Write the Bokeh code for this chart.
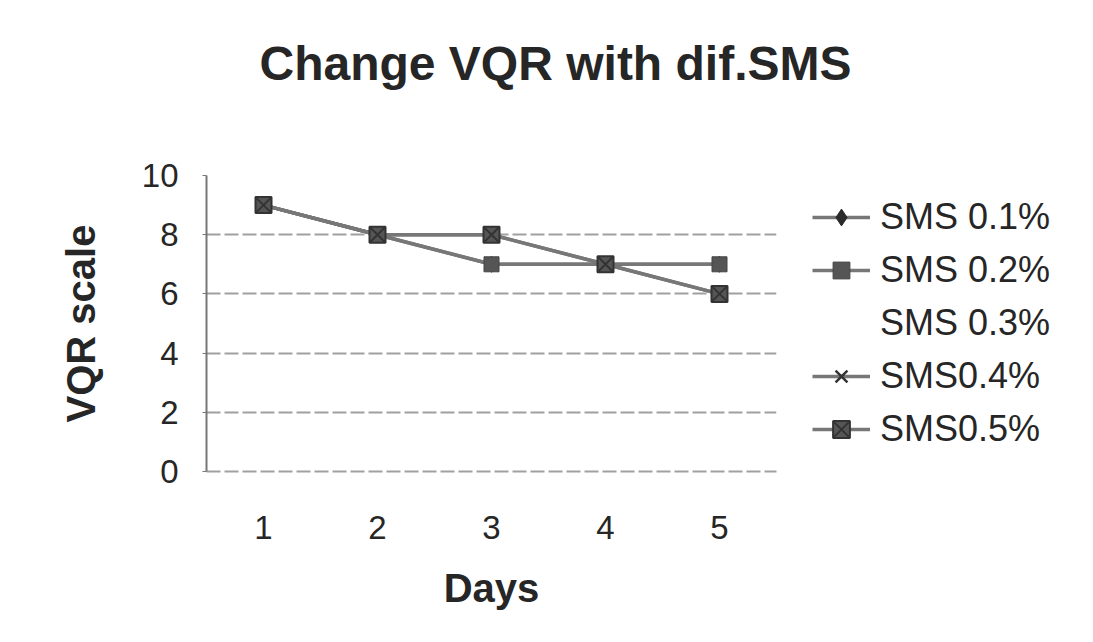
from bokeh.plotting import figure
from bokeh.models import Legend, LegendItem, FixedTicker, Range1d, Title
from bokeh.embed import file_html
from bokeh.resources import INLINE

days = [1, 2, 3, 4, 5]
sms01 = [9, 8, 7, 7, 7]
sms02 = [9, 8, 7, 7, 7]
sms03 = [9, 8, 7, 7, 7]
sms04 = [9, 8, 8, 7, 6]
sms05 = [9, 8, 8, 7, 6]
y_ticks = [0, 2, 4, 6, 8, 10]
names = ["SMS 0.1%", "SMS 0.2%", "SMS 0.3%", "SMS0.4%", "SMS0.5%"]
title_text = "Change VQR with dif.SMS"

FONT = "Liberation Sans"
TXT = "#262626"

p = figure(frame_width=570, frame_height=296, output_backend="svg", toolbar_location=None,
           x_range=Range1d(0.5, 5.5), y_range=Range1d(0, 10),
           min_border_left=206, min_border_right=317, min_border_top=175, min_border_bottom=171)
p.outline_line_color = None
p.background_fill_color = "white"
p.border_fill_color = "white"

# real title (outermost), plus a blank spacer title between it and the frame
p.title.text = title_text
p.title.text_font = FONT
p.title.text_font_size = "48px"
p.title.text_font_style = "bold"
p.title.text_color = TXT
p.title.align = "left"
p.title.offset = 53
p.title.standoff = 0

spacer = Title(text=" ", text_font_size="1px", standoff=83)
p.add_layout(spacer, "above")

p.xgrid.grid_line_color = None
p.ygrid.ticker = FixedTicker(ticks=y_ticks)
p.ygrid.grid_line_color = "#a0a0a0"
p.ygrid.grid_line_width = 2
p.ygrid.grid_line_dash = "14 4"

p.yaxis.ticker = FixedTicker(ticks=y_ticks)
p.xaxis.ticker = FixedTicker(ticks=days)
for ax in (p.xaxis, p.yaxis):
    ax.major_label_text_font = FONT
    ax.major_label_text_font_size = "33px"
    ax.major_label_text_color = TXT
    ax.axis_label_text_font = FONT
    ax.axis_label_text_font_size = "40px"
    ax.axis_label_text_font_style = "bold"
    ax.axis_label_text_color = TXT
    ax.minor_tick_line_color = None
p.yaxis.axis_line_color = "#777777"
p.yaxis.axis_line_width = 2
p.yaxis.major_tick_line_color = "#777777"
p.yaxis.major_tick_in = 0
p.yaxis.major_tick_out = 4
p.yaxis.major_label_standoff = 24
p.yaxis.axis_label = "VQR scale"
p.yaxis.axis_label_standoff = 36
p.xaxis.axis_line_color = "#a0a0a0"
p.xaxis.axis_line_width = 2
p.xaxis.axis_line_dash = "14 4"
p.xaxis.major_tick_line_color = None
p.xaxis.major_label_standoff = 38
p.xaxis.axis_label = "Days"
p.xaxis.axis_label_standoff = 24

LINE = "#777777"
r3 = p.line(days, sms03, line_color="white", line_width=3.5)
r1l = p.line(days, sms01, line_color=LINE, line_width=3.5)
r1m = p.scatter(days, sms01, marker="diamond", size=16, fill_color="#2a2a2a", line_color="#2a2a2a")
r2l = p.line(days, sms02, line_color=LINE, line_width=3.5)
r2m = p.scatter(days, sms02, marker="square", size=15, fill_color="#555555", line_color="#444444")
r4l = p.line(days, sms04, line_color=LINE, line_width=3.5)
r4m = p.scatter(days, sms04, marker="x", size=15, line_color="#333333", line_width=2.5)
r5l = p.line(days, sms05, line_color=LINE, line_width=3.5)
r5m = p.scatter(days, sms05, marker="square_x", size=16, fill_color="#555555", line_color="#333333", line_width=2)

items = [
    LegendItem(label=names[0], renderers=[r1l, r1m]),
    LegendItem(label=names[1], renderers=[r2l, r2m]),
    LegendItem(label=names[2], renderers=[r3]),
    LegendItem(label=names[3], renderers=[r4l, r4m]),
    LegendItem(label=names[4], renderers=[r5l, r5m]),
]
legend = Legend(items=items, location=(36, 21), border_line_color=None,
                background_fill_alpha=0, padding=0, margin=0,
                glyph_width=58, glyph_height=42, spacing=11, label_standoff=10,
                label_text_font=FONT, label_text_font_size="36px", label_text_color=TXT)
p.add_layout(legend, "right")

open("out.html", "w").write(file_html(p, INLINE))
